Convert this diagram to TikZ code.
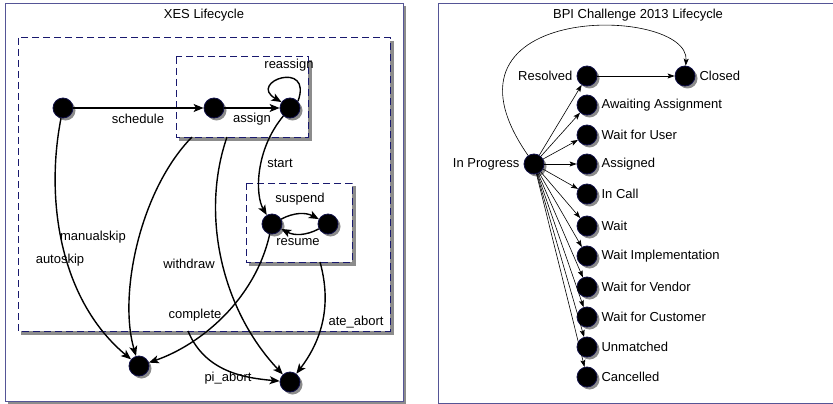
\documentclass[tikz,border=0pt]{standalone}
\usepackage{fontspec}
\setmainfont{Liberation Sans}
\usetikzlibrary{arrows.meta,shadows}
\definecolor{framec}{RGB}{85,85,150}
\definecolor{dashc}{RGB}{25,25,110}
\definecolor{nodec}{RGB}{15,15,70}
\definecolor{shadc}{RGB}{140,140,140}
\begin{document}
\begin{tikzpicture}[x=1pt,y=1pt,
  every node/.style={font=\fontsize{13}{15}\selectfont},
  st/.style={circle,fill=black,draw=nodec,line width=0.8pt,minimum size=20pt,inner sep=0pt,
    drop shadow={shadow xshift=2.5pt,shadow yshift=-2.5pt,fill=shadc,opacity=1}},
  bigarrow/.style={line width=1.4pt,-{Stealth[length=10pt,width=8pt,inset=2.5pt]}},
  smallarrow/.style={line width=0.6pt,-{Stealth[length=7pt,width=5pt,inset=1.5pt]}},
  lbl/.style={inner sep=2pt},
  dbox/.style={draw=dashc,line width=1pt,dash pattern=on 7pt off 4pt,fill=white},
  label distance=2pt
]
\useasboundingbox (0,0) rectangle (833,-404);
\clip (0,0) rectangle (833,-404);

% frames
\fill[shadc] (7.5,-6.5) rectangle (405.5,-403.5);
\draw[framec,line width=1pt,fill=white] (5,-4) rectangle (403,-401);
\fill[shadc] (440.5,-6.5) rectangle (845,-406);
\draw[framec,line width=1pt,fill=white] (438,-4) rectangle (840,-403);

\node (t1) at (204,-15) {XES Lifecycle};
\node (t2) at (638,-15) {BPI Challenge 2013 Lifecycle};

% dashed boxes
\fill[shadc] (21,-41) rectangle (393.5,-334.5);
\draw[dbox] (18,-38) rectangle (390,-331);
\fill[shadc] (179,-60) rectangle (311.5,-140.5);
\draw[dbox] (176,-57) rectangle (308,-137);
\fill[shadc] (249,-186) rectangle (355.5,-265.5);
\draw[dbox] (246,-183) rectangle (352,-262);

\coordinate (mA) at (192,-137);
\coordinate (wA) at (227,-137);
\coordinate (pA) at (188,-331);
\coordinate (aB) at (320,-262);

% left nodes
\node[st] (n0) at (63,-108) {};
\node[st] (n1) at (214,-108) {};
\node[st] (n2) at (290,-108) {};
\node[st] (n3) at (272,-224) {};
\node[st] (n4) at (328,-224) {};
\node[st] (n5) at (139,-366) {};
\node[st] (n6) at (290,-382) {};

% left edges
\draw[bigarrow] (n0) -- (n1);
\draw[bigarrow] (n1) -- (n2);
\draw[bigarrow] (n2.40) .. controls +(70:45) and +(150:40) .. (n2.145);
\draw[bigarrow] (n2) .. controls (255,-150) and (255,-195) .. (n3);
\draw[bigarrow] (n3) to[bend left=28] (n4);
\draw[bigarrow] (n4) to[bend left=28] (n3);
\draw[bigarrow] (n0) .. controls (45,-200) and (60,-300) .. (n5);
\draw[bigarrow] (mA) .. controls (140,-190) and (118,-295) .. (n5);
\draw[bigarrow] (wA) .. controls (200,-215) and (222,-310) .. (n6);
\draw[bigarrow] (n3) .. controls (255,-300) and (200,-345) .. (n5);
\draw[bigarrow] (pA) .. controls (205,-372) and (245,-378) .. (n6);
\draw[bigarrow] (aB) .. controls (332,-305) and (322,-340) .. (n6);

% left labels
\node (lsch) at (138,-119) {schedule};
\node (lass) at (252,-119) {assign};
\node (lre) at (289,-65) {reassign};
\node (lst) at (280,-163) {start};
\node (lsu) at (300,-199) {suspend};
\node (lrs) at (298,-242) {resume};
\node (lms) at (93,-237) {manualskip};
\node (las) at (60,-260) {autoskip};
\node (lwd) at (189,-264) {withdraw};
\node (lco) at (195,-315) {complete};
\node (lpa) at (228,-378) {pi\_abort};
\node (lat) at (356,-322) {ate\_abort};

% right nodes
\node[st,label={[lbl]left:In Progress}] (ip) at (534,-164) {};
\node[st,label={[lbl]left:Resolved}] (res) at (587,-76) {};
\node[st,label={[lbl]right:Closed}] (cl) at (685,-76) {};
\node[st,label={[lbl]right:Awaiting Assignment}] (aa) at (587,-105) {};
\node[st,label={[lbl]right:Wait for User}] (wfu) at (587,-135) {};
\node[st,label={[lbl]right:Assigned}] (asg) at (587,-164) {};
\node[st,label={[lbl]right:In Call}] (ic) at (587,-194) {};
\node[st,label={[lbl]right:Wait}] (wt) at (587,-226) {};
\node[st,label={[lbl]right:Wait Implementation}] (wi) at (587,-256) {};
\node[st,label={[lbl]right:Wait for Vendor}] (wv) at (587,-287) {};
\node[st,label={[lbl]right:Wait for Customer}] (wc) at (587,-317) {};
\node[st,label={[lbl]right:Unmatched}] (um) at (587,-347) {};
\node[st,label={[lbl]right:Cancelled}] (cc) at (587,-377) {};

% right edges
\foreach \t in {res,aa,wfu,asg,ic,wt,wi,wv,wc,um,cc}
  \draw[smallarrow] (ip) -- (\t);
\draw[smallarrow] (res) -- (cl);
\draw[smallarrow] (ip) .. controls (420,0) and (690,-5) .. (cl);
\end{tikzpicture}
\end{document}
